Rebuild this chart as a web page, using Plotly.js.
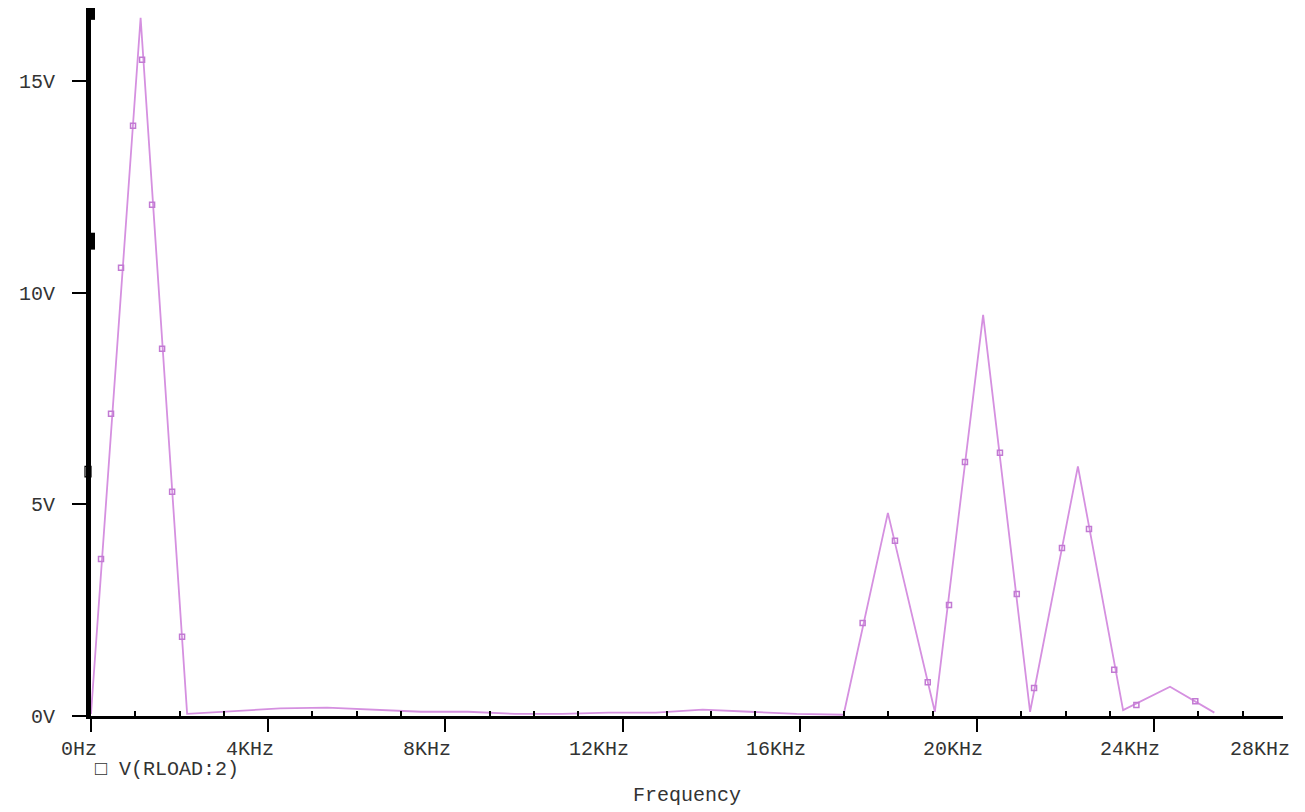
<!DOCTYPE html>
<html><head><meta charset="utf-8">
<script src="https://cdn.plot.ly/plotly-3.0.1.min.js"></script>
<style>html,body{margin:0;padding:0;background:#fff;} #chart{width:1305px;height:812px;}</style>
</head><body><div id="chart"></div>
<script>
// Trace vertices (frequency in KHz, magnitude in V)
const freqKHz = [0, 1.12, 2.17, 3.21, 4.27, 5.33, 6.39, 7.45, 8.51, 9.57, 10.63, 11.69, 12.75, 13.81, 14.87, 15.93, 16.99, 17.99, 19.05, 20.14, 21.2, 22.28, 23.3, 24.36, 25.36];
const voltage = [0.05, 16.5, 0.05, 0.12, 0.18, 0.2, 0.15, 0.1, 0.1, 0.05, 0.05, 0.08, 0.08, 0.15, 0.1, 0.05, 0.03, 4.8, 0.1, 9.48, 0.1, 5.9, 0.14, 0.69, 0.08];
// Square markers drawn along the trace
const markerFreqKHz = [0.226, 0.452, 0.678, 0.949, 1.153, 1.379, 1.605, 1.831, 2.056, 17.42, 18.15, 18.89, 19.37, 19.73, 20.52, 20.90, 21.29, 21.92, 22.53, 23.1, 23.6, 24.93];
const markerVoltage = [3.71, 7.14, 10.59, 13.95, 15.51, 12.08, 8.68, 5.30, 1.87, 2.20, 4.14, 0.80, 2.62, 6.0, 6.22, 2.88, 0.66, 3.97, 4.42, 1.09, 0.26, 0.35];
const xTickVals = [0, 4, 8, 12, 16, 20, 24];
const xTickText = ["0Hz", "4KHz", "8KHz", "12KHz", "16KHz", "20KHz", "24KHz"];
const xMinorTickVals = [1, 2, 3, 5, 6, 7, 9, 10, 11, 13, 14, 15, 17, 18, 19, 21, 22, 23, 25, 26];
const xEndLabel = "28KHz";
const yTickVals = [0, 5, 10, 15];
const yTickText = ["0V", "5V", "10V", "15V"];
const seriesName = "V(RLOAD:2)";
const xTitle = "Frequency";

const xMax = 26.91, yMax = 16.73;
const font = {family: "Liberation Mono, Courier New, monospace", size: 20, color: "#333"};
const traceColor = "#d590e0";

const annotations = xTickVals.map((v, i) => ({
  xref: "x", x: v, yref: "paper", y: 0, yanchor: "top", xanchor: "right",
  xshift: 8, yshift: -20, showarrow: false, text: xTickText[i], font: font
}));
annotations.push({xref: "x", x: xMax, yref: "paper", y: 0, yanchor: "top", xanchor: "right",
  xshift: 9, yshift: -20, showarrow: false, text: xEndLabel, font: font});
annotations.push({xref: "paper", x: 0, yref: "paper", y: 0, yanchor: "middle", xanchor: "left",
  xshift: 2, yshift: -53, showarrow: false, text: "\u25A1 " + seriesName, font: font});

const data = [
  {x: freqKHz, y: voltage, type: "scatter", mode: "lines", name: seriesName,
   line: {color: traceColor, width: 1.8}, hoverinfo: "x+y"},
  {x: markerFreqKHz, y: markerVoltage, type: "scatter", mode: "markers", showlegend: false,
   marker: {symbol: "square-open", size: 5, color: "#c27ad3", line: {width: 1.5}}, hoverinfo: "skip"},
  // carrier so that the minor-tick overlay axis is drawn (point lies outside the y range)
  {x: [0], y: [-1], xaxis: "x2", type: "scatter", mode: "markers", showlegend: false, hoverinfo: "skip"}
];

const layout = {
  width: 1305, height: 812,
  margin: {l: 91, r: 22, t: 8, b: 96},
  paper_bgcolor: "#fff", plot_bgcolor: "#fff",
  showlegend: false,
  xaxis: {
    range: [0, xMax], showline: true, linewidth: 3, linecolor: "#000",
    ticks: "outside", ticklen: 13, tickwidth: 2, tickcolor: "#000",
    tickmode: "array", tickvals: xTickVals, showticklabels: false,
    showgrid: false, zeroline: false,
    title: {text: xTitle, font: font, standoff: 56}
  },
  xaxis2: {
    overlaying: "x", anchor: "y", side: "bottom", range: [0, xMax],
    showline: false, ticks: "inside", ticklen: 5, tickwidth: 2, tickcolor: "#000",
    tickmode: "array", tickvals: xMinorTickVals, showticklabels: false,
    showgrid: false, zeroline: false
  },
  yaxis: {
    range: [0, yMax], showline: true, linewidth: 5, linecolor: "#000",
    ticks: "outside", ticklen: 14, tickwidth: 2, tickcolor: "#000",
    tickmode: "array", tickvals: yTickVals, ticktext: yTickText,
    tickfont: font, ticklabelstandoff: 13,
    showgrid: false, zeroline: false
  },
  annotations: annotations,
  shapes: [
    {type: "rect", xref: "paper", xsizemode: "pixel", xanchor: 0, x0: -4, x1: 4, yref: "y", y0: 16.45, y1: 16.73, fillcolor: "#000", line: {width: 0}},
    {type: "rect", xref: "paper", xsizemode: "pixel", xanchor: 0, x0: -4, x1: 4, yref: "y", y0: 11.02, y1: 11.42, fillcolor: "#000", line: {width: 0}},
    {type: "rect", xref: "paper", xsizemode: "pixel", xanchor: 0, x0: -6, x1: 0, yref: "y", y0: 5.65, y1: 5.9, fillcolor: "rgba(0,0,0,0)", line: {width: 1.2, color: "#000"}}
  ]
};

Plotly.newPlot("chart", data, layout, {displayModeBar: false, staticPlot: true});
</script>
</body></html>
